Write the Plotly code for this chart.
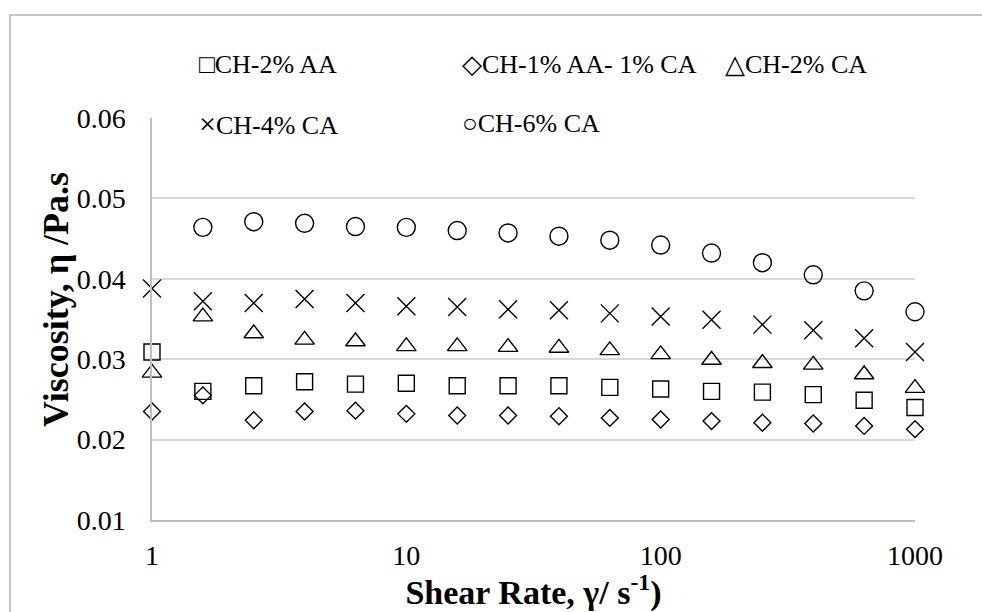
import plotly.graph_objects as go

shear_rate = [1, 1.585, 2.512, 3.981, 6.31, 10, 15.85, 25.12, 39.81, 63.1,
              100, 158.5, 251.2, 398.1, 631, 1000]

ch_2aa = [0.0309, 0.0260, 0.0267, 0.0272, 0.0269, 0.0270, 0.0267, 0.0267,
          0.0267, 0.0265, 0.0263, 0.0260, 0.0259, 0.0256, 0.0249, 0.0240]
ch_1aa_1ca = [0.0235, 0.0255, 0.0224, 0.0235, 0.0236, 0.0232, 0.0230, 0.0230,
              0.0229, 0.0227, 0.0225, 0.0223, 0.0221, 0.0220, 0.0217, 0.0213]
ch_2ca = [0.0283, 0.0353, 0.0332, 0.0324, 0.0322, 0.0316, 0.0316, 0.0315,
          0.0314, 0.0311, 0.0306, 0.0299, 0.0295, 0.0293, 0.0281, 0.0264]
ch_4ca = [0.0388, 0.0372, 0.0370, 0.0375, 0.0370, 0.0366, 0.0365, 0.0362,
          0.0361, 0.0357, 0.0353, 0.0349, 0.0343, 0.0336, 0.0326, 0.0309]
ch_6ca = [None, 0.0464, 0.0471, 0.0469, 0.0465, 0.0464, 0.0460, 0.0457,
          0.0453, 0.0448, 0.0442, 0.0432, 0.0420, 0.0405, 0.0385, 0.0359]

series_names = ["CH-2% AA", "CH-1% AA- 1% CA", "CH-2% CA", "CH-4% CA", "CH-6% CA"]
legend_glyphs = ["\u25A1", "\u25C7", "\u25B3", "\u00D7", "\u25CB"]

x_ticks = [1, 10, 100, 1000]
x_tick_labels = ["1", "10", "100", "1000"]

FONT = "Liberation Serif"

fig = go.Figure()
styles = [
    (ch_2aa, "square-open", 16),
    (ch_1aa_1ca, "diamond-open", 13),
    (ch_2ca, "triangle-up-open", 17),
    (ch_4ca, "x-thin-open", 18),
    (ch_6ca, "circle-open", 18),
]
for (vals, sym, size), name in zip(styles, series_names):
    fig.add_trace(go.Scatter(
        x=shear_rate, y=vals, mode="markers", name=name, showlegend=False,
        cliponaxis=False,
        marker=dict(symbol=sym, size=size, color="black",
                    line=dict(color="black", width=1.4)),
    ))

# pixel helpers for layout
L, R, T, B = 152, 915, 118, 520
W, H = R - L, B - T
def px(x):
    return (x - L) / W
def py(y):
    return (B - y) / H

fig.add_shape(type="rect", xref="paper", yref="paper",
              x0=px(10), x1=px(995), y0=py(15), y1=py(630),
              line=dict(color="#b3b3b3", width=1.5), layer="below")

legend_pos = [(197, 64.5), (460, 64.5), (723, 64.5), (197, 123), (460, 123)]
for (gx, gy), g, name in zip(legend_pos, legend_glyphs, series_names):
    gsize = 30 if g == "\u00D7" else 26
    fig.add_annotation(xref="paper", yref="paper", x=px(gx), y=py(gy),
                       xanchor="left", yanchor="middle", showarrow=False,
                       text=f'<span style="font-size:{gsize}px">{g}</span>{name}',
                       font=dict(family=FONT, size=26, color="black"))

# y-axis title
fig.add_annotation(xref="paper", yref="paper", x=px(56), y=py(300),
                   xanchor="center", yanchor="middle", showarrow=False,
                   textangle=-90, text="<b>Viscosity, \u03b7 /Pa.s</b>",
                   font=dict(family=FONT, size=36, color="black"))

fig.update_layout(
    width=982, height=612,
    margin=dict(l=L, r=982 - R, t=T, b=612 - B),
    paper_bgcolor="white", plot_bgcolor="white",
    font=dict(family=FONT, color="black"),
)
fig.update_xaxes(
    type="log", range=[0, 3], tickvals=x_ticks, ticktext=x_tick_labels,
    showgrid=False, zeroline=False, showline=True, linecolor="#bfbfbf", linewidth=1.5,
    ticks="", tickfont=dict(family=FONT, size=28, color="black"), ticklabelstandoff=10,
    title=dict(text="<b>Shear Rate, \u03b3/ s<sup>-1</sup>)</b>",
               font=dict(family=FONT, size=34, color="black"), standoff=4),
)
fig.update_yaxes(
    range=[0.01, 0.06], dtick=0.01, tickformat=".2f",
    showgrid=True, gridcolor="#d9d9d9", gridwidth=1.5, zeroline=False,
    showline=True, linecolor="#bfbfbf", linewidth=1.5,
    ticks="", tickfont=dict(family=FONT, size=28, color="black"), ticklabelstandoff=19,
)

fig.write_html("out.html")
